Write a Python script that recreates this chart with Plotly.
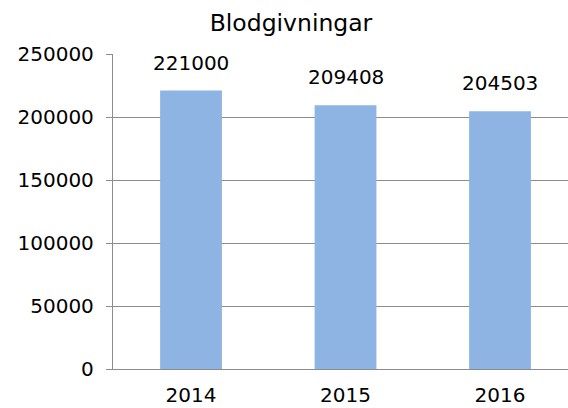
import plotly.graph_objects as go

years = ["2014", "2015", "2016"]
values = [221000, 209408, 204503]
title_text = "Blodgivningar"

BAR = "#8EB4E3"
GRID = "#8C8C8C"
FONT = "Verdana, DejaVu Sans, sans-serif"

fig = go.Figure(go.Bar(x=years, y=values, marker=dict(color=BAR, line=dict(width=0)),
                       width=0.4, hoverinfo="skip"))

annotations = [
    dict(x=i, y=v, xref="x", yref="y", text=str(v), showarrow=False, yanchor="bottom",
         yshift=14, font=dict(size=20, color="black", family=FONT))
    for i, v in enumerate(values)
]

fig.update_layout(
    width=568, height=408,
    margin=dict(l=113, r=0, t=54, b=39),
    paper_bgcolor="white", plot_bgcolor="white",
    showlegend=False,
    annotations=annotations,
    font=dict(family=FONT, size=20, color="black"),
    title=dict(text=title_text, x=291/568, xanchor="center", y=1-23/408, yanchor="middle",
               font=dict(size=23.5, color="black", family=FONT)),
    xaxis=dict(type="category", range=[-0.505, 2.44], showgrid=False, zeroline=False,
               showline=True, linecolor=GRID, linewidth=1.3, ticks="", ticklabelstandoff=8,
               tickfont=dict(size=20)),
    yaxis=dict(range=[0, 250000], dtick=50000, tick0=0, showgrid=True, gridcolor=GRID, gridwidth=1.3,
               zeroline=False, showline=True, linecolor=GRID, linewidth=1.3,
               ticks="outside", ticklen=6, tickcolor=GRID, tickwidth=1.3,
               ticklabelstandoff=8, tickformat="d", tickfont=dict(size=20)),
)

fig.write_html("out.html", config={"displayModeBar": False},
               post_script="document.body.style.margin='0';document.body.style.overflow='hidden';")
